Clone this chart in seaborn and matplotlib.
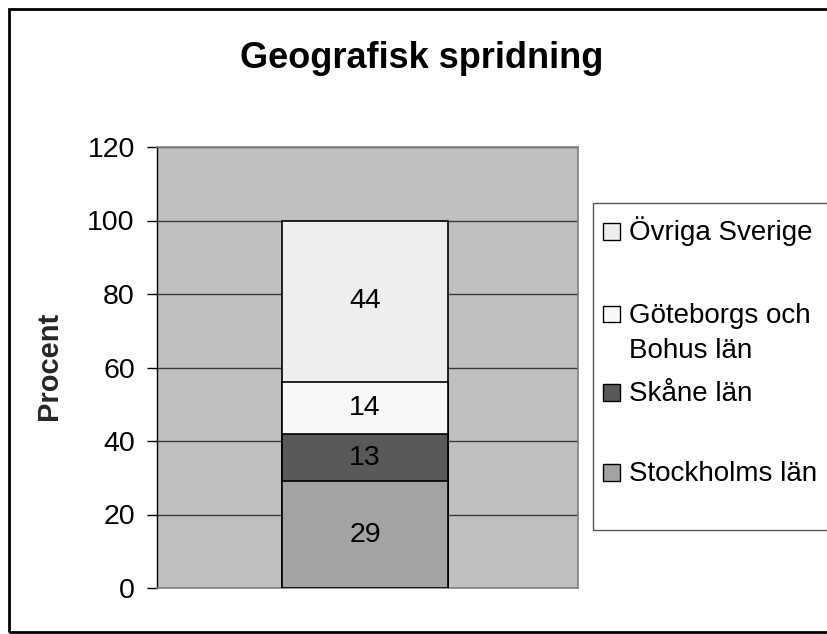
import matplotlib
matplotlib.use("Agg")
import matplotlib.pyplot as plt
import seaborn as sns
import pandas as pd
from matplotlib.patches import Rectangle

# Data
categories = ["Stockholms län", "Skåne län", "Göteborgs och\nBohus län", "Övriga Sverige"]
values = [29, 13, 14, 44]
colors = ["#A3A3A3", "#595959", "#F8F8F8", "#EEEEEE"]
yticks = [0, 20, 40, 60, 80, 100, 120]

sns.set_theme(style="white")
plt.rcParams['font.family'] = ['Liberation Sans', 'DejaVu Sans']

W, H = 827, 634
fig = plt.figure(figsize=(W / 100, H / 100), dpi=100)
fig.patch.set_facecolor("white")

def fx(px):
    return px / W

def fy(py):
    return 1 - py / H

ax = fig.add_axes([fx(157), fy(588), fx(578) - fx(157), fy(147) - fy(588)])
ax.set_facecolor("#C0C0C0")

# cumulative tops, draw largest first so smaller ones overlay
cum = []
s = 0
for v in values:
    s += v
    cum.append(s)

df = pd.DataFrame({"g": ["A"] * len(values), "cat": categories, "top": cum})
for i in reversed(range(len(values))):
    sns.barplot(data=df.iloc[[i]], x="g", y="top", color=colors[i], width=0.394,
                edgecolor="black", linewidth=1.2, ax=ax, zorder=3, saturation=1)

# labels centered in segments
bottom = 0
for v in values:
    ax.text(0, bottom + v / 2, str(v), ha="center", va="center", fontsize=20.5,
            color="black", zorder=4)
    bottom += v

ax.set_xlim(-0.494, 0.506)
ax.set_ylim(0, 120)
ax.set_yticks(yticks)
ax.set_yticklabels([str(t) for t in yticks], fontsize=20.5)
ax.set_xticks([])
ax.set_xlabel("")
ax.yaxis.grid(True, color="#3A3A3A", linewidth=1.0, zorder=1)
ax.set_axisbelow(True)
ax.tick_params(axis="y", direction="out", length=7, width=1, pad=9,
               colors="black", left=True)
for side in ["top", "right", "bottom"]:
    ax.spines[side].set_color("#808080")
    ax.spines[side].set_linewidth(1.2)
ax.spines["left"].set_color("black")
ax.spines["left"].set_linewidth(1)

ax.set_ylabel("Procent", fontsize=21, fontweight="bold")
ax.yaxis.set_label_coords((63 - 157) / 421, 0.503)

# Title
fig.text(fx(422), fy(68), "Geografisk spridning", ha="center", va="baseline",
         fontsize=26, fontweight="bold", color="black")

# Outer figure border (clipped at right)
fig.patches.append(Rectangle((fx(8.5), fy(632)), fx(830) - fx(8.5), fy(8.5) - fy(632),
                             transform=fig.transFigure, fill=False,
                             edgecolor="black", linewidth=2))

# Legend box (manual, Excel-like layout)
fig.patches.append(Rectangle((fx(593), fy(530)), fx(840) - fx(593), fy(203) - fy(530),
                             transform=fig.transFigure, fill=False,
                             edgecolor="#555555", linewidth=1))
leg_order = [3, 2, 1, 0]
marker_y = [231, 314, 392, 472]
for idx, my in zip(leg_order, marker_y):
    fig.patches.append(Rectangle((fx(603), fy(my + 8.5)), fx(620) - fx(603),
                                 fy(my - 8.5) - fy(my + 8.5),
                                 transform=fig.transFigure, facecolor=colors[idx],
                                 edgecolor="black", linewidth=1))
    for k, line in enumerate(categories[idx].split("\n")):
        fig.text(fx(629), fy(my + 9 + 35 * k), line, ha="left", va="baseline",
                 fontsize=20, color="black")

fig.savefig("out.png", dpi=100)
